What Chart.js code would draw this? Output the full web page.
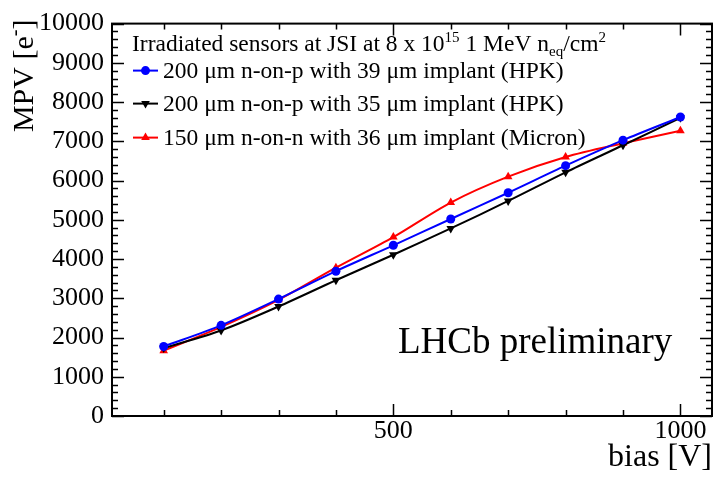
<!DOCTYPE html>
<html>
<head>
<meta charset="utf-8">
<script src="https://cdn.jsdelivr.net/npm/chart.js@4/dist/chart.umd.min.js"></script>
<style>
  html, body { margin: 0; padding: 0; background: #fff; }
  #wrap { width: 717px; height: 484px; position: relative; }
</style>
</head>
<body>
<div id="wrap"><canvas id="c" width="717" height="484"></canvas></div>
<script>
// ---- data ----
const biasVoltages = [100, 200, 300, 400, 500, 600, 700, 800, 900, 1000];
const mpvHPK39 = [1770, 2310, 2980, 3690, 4350, 5020, 5690, 6380, 7030, 7620];
const mpvHPK35 = [1730, 2180, 2790, 3460, 4110, 4780, 5480, 6210, 6900, 7600];
const mpvMicron36 = [1660, 2270, 2960, 3780, 4560, 5440, 6100, 6600, 6950, 7270];
const seriesLabels = [
  '200 \u03bcm n-on-p with 39 \u03bcm implant (HPK)',
  '200 \u03bcm n-on-p with 35 \u03bcm implant (HPK)',
  '150 \u03bcm n-on-n with 36 \u03bcm implant (Micron)'
];
const xMajorTicks = [500, 1000];
const yTickStep = 1000;
const xAxisTitle = 'bias [V]';
const yAxisTitle = 'MPV [e-]';
const annotationText = 'LHCb preliminary';

const SERIF = '"Liberation Serif", "DejaVu Serif", serif';

function toPoints(xs, ys) { return xs.map((x, i) => ({ x: x, y: ys[i] })); }

const datasets = [
  { label: seriesLabels[0], data: toPoints(biasVoltages, mpvHPK39), borderColor: '#0000ff', backgroundColor: '#0000ff',
    pointStyle: 'circle', pointRadius: 4.5, pointRotation: 0 },
  { label: seriesLabels[1], data: toPoints(biasVoltages, mpvHPK35), borderColor: '#000000', backgroundColor: '#000000',
    pointStyle: 'triangle', pointRadius: 5, pointRotation: 180 },
  { label: seriesLabels[2], data: toPoints(biasVoltages, mpvMicron36), borderColor: '#ff0000', backgroundColor: '#ff0000',
    pointStyle: 'triangle', pointRadius: 5, pointRotation: 0 }
].map(d => Object.assign({ borderWidth: 2, tension: 0.3, pointBorderWidth: 0, fill: false }, d));

// ROOT-style frame with inward ticks on all four sides
const framePlugin = {
  id: 'frame',
  afterDatasetsDraw(chart) {
    const { ctx, chartArea: a, scales } = chart;
    const xs = scales.x, ys = scales.y;
    ctx.save();
    ctx.strokeStyle = '#000';
    ctx.lineWidth = 2;
    ctx.strokeRect(a.left, a.top, a.right - a.left, a.bottom - a.top);
    ctx.lineWidth = 1.5;
    ctx.beginPath();
    for (let v = ys.min; v <= ys.max; v += 200) {
      const p = Math.round(ys.getPixelForValue(v)) + 0.5;
      const len = (v % 1000 === 0) ? 12 : 6;
      ctx.moveTo(a.left, p); ctx.lineTo(a.left + len, p);
      ctx.moveTo(a.right, p); ctx.lineTo(a.right - len, p);
    }
    for (let v = 100; v <= xs.max; v += 100) {
      if (v < xs.min) continue;
      const p = Math.round(xs.getPixelForValue(v)) + 0.5;
      const len = (v % 500 === 0) ? 12 : 6;
      ctx.moveTo(p, a.bottom); ctx.lineTo(p, a.bottom - len);
      ctx.moveTo(p, a.top); ctx.lineTo(p, a.top + len);
    }
    ctx.stroke();
    ctx.restore();
  },
  afterDraw(chart) {
    const { ctx, chartArea: a } = chart;
    ctx.save();
    ctx.fillStyle = '#000';
    ctx.textBaseline = 'alphabetic';
    ctx.textAlign = 'left';

    // y-axis title (rotated, right-aligned to top of the frame), with superscript minus
    ctx.save();
    ctx.translate(33, a.top - 4);
    ctx.rotate(-Math.PI / 2);
    const yt = [['MPV [e', '30px ' + SERIF, 0], ['-', '20px ' + SERIF, -12], [']', '30px ' + SERIF, 0]];
    let tw = 0;
    yt.forEach(([t, f]) => { ctx.font = f; tw += ctx.measureText(t).width; });
    let tx = -tw;
    yt.forEach(([t, f, dy]) => { ctx.font = f; ctx.fillText(t, tx, dy); tx += ctx.measureText(t).width; });
    ctx.restore();

    // header
    let x = a.left + 20, y = a.top + 27;
    const big = '23.5px ' + SERIF, small = '15px ' + SERIF;
    const parts = [
      ['Irradiated sensors at JSI at 8 x 10', big, 0],
      ['15', small, -9],
      [' 1 MeV n', big, 0],
      ['eq', small, 5],
      ['/cm', big, 0],
      ['2', small, -9]
    ];
    parts.forEach(([t, f, dy]) => {
      ctx.font = f;
      ctx.fillText(t, x, y + dy);
      x += ctx.measureText(t).width;
    });
    // entries
    const baselines = [a.top + 54, a.top + 87, a.top + 121];
    chart.data.datasets.forEach((ds, i) => {
      const by = baselines[i];
      const ly = by - 7;
      ctx.strokeStyle = ds.borderColor;
      ctx.lineWidth = 2;
      ctx.beginPath();
      ctx.moveTo(a.left + 21, ly); ctx.lineTo(a.left + 46, ly);
      ctx.stroke();
      ctx.fillStyle = ds.backgroundColor;
      Chart.helpers.drawPoint(ctx, {
        pointStyle: ds.pointStyle, radius: ds.pointRadius, rotation: ds.pointRotation, borderWidth: 0
      }, a.left + 33.5, ly);
      ctx.fillStyle = '#000';
      ctx.font = big;
      ctx.fillText(ds.label, a.left + 51, by);
    });
    // annotation
    ctx.font = '37px ' + SERIF;
    ctx.fillText(annotationText, a.left + 286, a.bottom - 63);
    ctx.restore();
  }
};

new Chart(document.getElementById('c'), {
  type: 'line',
  data: { datasets: datasets },
  options: {
    responsive: false,
    animation: false,
    devicePixelRatio: 1,
    layout: { padding: { top: 19, right: 2, left: 0, bottom: 0 } },
    plugins: { legend: { display: false }, tooltip: { enabled: false } },
    scales: {
      x: {
        type: 'linear', position: 'bottom', min: 10, max: 1055,
        afterBuildTicks: s => { s.ticks = xMajorTicks.map(v => ({ value: v })); },
        afterFit: s => { s.height = 68; },
        grid: { display: true, drawOnChartArea: false, drawTicks: false },
        border: { display: false },
        ticks: { color: '#000', font: { family: SERIF, size: 26 }, padding: 0, maxRotation: 0, autoSkip: false,
                 callback: v => String(v) },
        title: { display: true, text: xAxisTitle, align: 'end', color: '#000',
                 font: { family: SERIF, size: 32 }, padding: { top: 0, bottom: 7 } }
      },
      y: {
        type: 'linear', position: 'left', min: 0, max: 10000,
        afterFit: s => { s.width = 112; },
        grid: { display: true, drawOnChartArea: false, drawTicks: false },
        border: { display: false },
        ticks: { stepSize: yTickStep, color: '#000', font: { family: SERIF, size: 26 }, padding: 8,
                 callback: v => String(v) },
        title: { display: false, text: yAxisTitle }
      }
    }
  },
  plugins: [framePlugin]
});
</script>
</body>
</html>
